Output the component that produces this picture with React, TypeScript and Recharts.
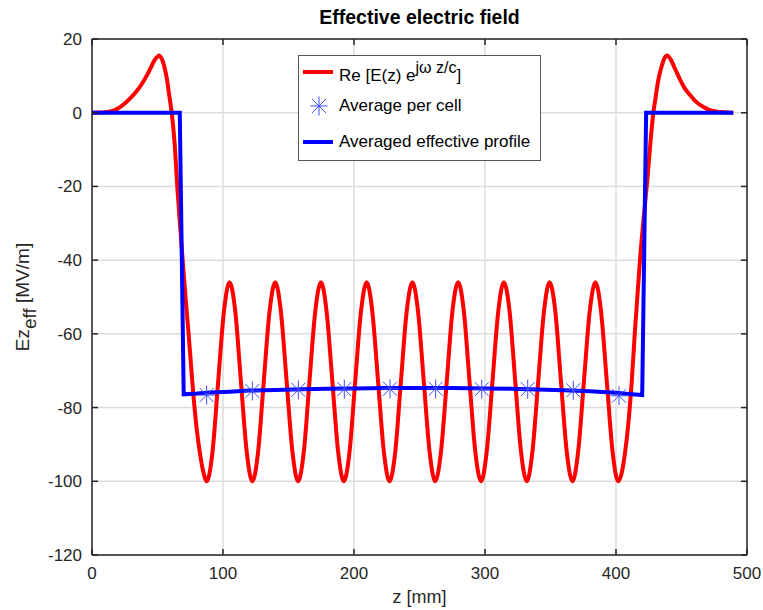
import React from "react";
import {
  ComposedChart,
  Line,
  Scatter,
  XAxis,
  YAxis,
  CartesianGrid,
} from "recharts";

// z positions [mm] and Re[E(z) e^{jwz/c}] [MV/m]
const fieldZ = [
  0, 8, 15, 20, 25, 30, 34, 38, 42, 45, 48, 50, 51.4, 53, 55, 57, 59, 61, 63, 65,
  67, 69.2, 71.5, 73.5, 75.5, 77.5, 80, 82.4, 85, 87.6,
  92.0, 96.3, 100.7, 105.0, 109.4, 113.7, 118.1, 122.4,
  126.8, 131.1, 135.5, 139.9, 144.2, 148.6, 153.0, 157.3,
  161.7, 166.0, 170.4, 174.8, 179.1, 183.5, 187.9, 192.2,
  196.6, 200.9, 205.3, 209.7, 214.0, 218.4, 222.8, 227.1,
  231.5, 235.8, 240.2, 244.6, 248.9, 253.3, 257.7, 262.0,
  266.4, 270.8, 275.1, 279.5, 283.9, 288.2, 292.6, 297.0,
  301.3, 305.7, 310.1, 314.4, 318.8, 323.1, 327.5, 331.9,
  336.2, 340.6, 345.0, 349.3, 353.7, 358.0, 362.4, 366.8,
  371.1, 375.5, 379.9, 384.3, 388.6, 393.0, 397.4, 401.7,
  404.5, 407, 409.5, 412, 414.5, 416.5, 418.3, 421, 423.9, 426.3, 428.5, 430, 432.3,
  435, 437, 439.2, 441.5, 445, 449, 452.5, 456.5, 461, 466.5, 471, 477, 483, 489.5,
];
const fieldE = [
  0, 0.05, 0.4, 1.2, 2.5, 4.2, 5.8, 7.8, 10.2, 12.3, 14.4, 15.2, 15.5, 14.8, 12.8, 9.5, 4.6, -0.5, -8, -19.5,
  -29.5, -40, -50.5, -59, -68, -77, -86, -92.4, -97.5, -100,
  -92, -73, -54, -46, -54, -73, -92, -100,
  -92, -73, -54, -46, -54, -73, -92, -100,
  -92, -73, -54, -46, -54, -73, -92, -100,
  -92, -73, -54, -46, -54, -73, -92, -100,
  -92, -73, -54, -46, -54, -73, -92, -100,
  -92, -73, -54, -46, -54, -73, -92, -100,
  -92, -73, -54, -46, -54, -73, -92, -100,
  -92, -73, -54, -46, -54, -73, -92, -100,
  -92, -73, -54, -46, -54, -73, -92, -100,
  -97.5, -92, -84, -73, -59, -49, -40, -29, -18.3, -8, 0, 3.6, 8.9,
  12.8, 14.8, 15.5, 14.6, 12, 8.9, 6.6, 4.8, 3, 1.6, 0.8, 0.3, 0.1, 0,
];

// averaged effective profile
const profileZ = [0, 67, 70, 80, 90, 105, 120, 140, 160, 180, 200, 225, 250, 275, 300, 320, 340, 360, 380, 400, 410, 420, 423, 489.5];
const profileE = [0, 0, -76.4, -76.2, -75.9, -75.7, -75.4, -75.2, -75.0, -74.9, -74.8, -74.7, -74.7, -74.7, -74.8, -74.9, -75.1, -75.3, -75.6, -76.0, -76.3, -76.6, 0, 0];

// average per cell
const cellZ = [87.5, 122.4, 157.5, 192.6, 227.5, 262.3, 297.5, 332.6, 367.4, 402.3];
const cellE = [-76.6, -75.5, -75.2, -75.0, -74.9, -74.9, -75.0, -75.0, -75.3, -76.8];

const xTicks = [0, 100, 200, 300, 400, 500];
const yTicks = [-120, -100, -80, -60, -40, -20, 0, 20];

const fieldData = fieldZ.map((z, i) => ({ z, e: fieldE[i] }));
const profileData = profileZ.map((z, i) => ({ z, e: profileE[i] }));
const cellData = cellZ.map((z, i) => ({ z, e: cellE[i] }));

const FONT = "'Liberation Sans', Arial, Helvetica, sans-serif";
const AXIS = "#262626";
const STAR = "#3f4dff";

function Asterisk(props: any) {
  const { cx, cy } = props;
  if (cx == null || cy == null) return null;
  return (
    <g stroke={STAR} strokeWidth={1}>
      <line x1={cx} y1={cy - 9.5} x2={cx} y2={cy + 9.5} />
      <line x1={cx - 8.5} y1={cy} x2={cx + 8.5} y2={cy} />
      <line x1={cx - 7} y1={cy - 7} x2={cx + 7} y2={cy + 7} />
      <line x1={cx - 7} y1={cy + 7} x2={cx + 7} y2={cy - 7} />
    </g>
  );
}

const tickStyle = { fontSize: 17, fill: AXIS, fontFamily: FONT };
const axisLine = { stroke: AXIS, strokeWidth: 1.5 };

export default function App() {
  return (
    <div style={{ position: "absolute", left: 0, top: 0, width: 763, height: 610, background: "#fff" }}>
      <ComposedChart
        width={763}
        height={610}
        margin={{ top: 38, right: 15, bottom: 0, left: 0 }}
        style={{ position: "absolute", left: 0, top: 0 }}
      >
        <CartesianGrid stroke="#dcdcdc" strokeWidth={1.5} />
        <XAxis
          dataKey="z"
          type="number"
          domain={[0, 500]}
          ticks={xTicks}
          allowDataOverflow
          height={55}
          tickSize={-6}
          tickMargin={18}
          tick={tickStyle}
          axisLine={axisLine}
          tickLine={axisLine}
        />
        <XAxis
          xAxisId="top"
          dataKey="z"
          type="number"
          orientation="top"
          domain={[0, 500]}
          ticks={xTicks}
          allowDataOverflow
          height={1}
          tickSize={-6}
          tickFormatter={() => ""}
          axisLine={axisLine}
          tickLine={axisLine}
        />
        <YAxis
          dataKey="e"
          type="number"
          domain={[-120, 20]}
          ticks={yTicks}
          allowDataOverflow
          width={92}
          tickSize={-6}
          tickMargin={16}
          tick={tickStyle}
          axisLine={axisLine}
          tickLine={axisLine}
        />
        <YAxis
          yAxisId="right"
          dataKey="e"
          type="number"
          orientation="right"
          domain={[-120, 20]}
          ticks={yTicks}
          allowDataOverflow
          width={1}
          tickSize={-6}
          tickFormatter={() => ""}
          axisLine={axisLine}
          tickLine={axisLine}
        />
        <Line
          data={fieldData}
          dataKey="e"
          type="monotone"
          stroke="#ff0000"
          strokeWidth={4}
          dot={false}
          activeDot={false}
          isAnimationActive={false}
        />
        <Line
          data={profileData}
          dataKey="e"
          type="linear"
          stroke="#0000ff"
          strokeWidth={4}
          dot={false}
          activeDot={false}
          isAnimationActive={false}
        />
        <Scatter data={cellData} dataKey="e" shape={<Asterisk />} isAnimationActive={false} />
      </ComposedChart>

      <svg
        width={763}
        height={610}
        style={{ position: "absolute", left: 0, top: 0, pointerEvents: "none" }}
        fontFamily={FONT}
      >
        <text x={419.5} y={24} textAnchor="middle" fontSize={19.5} fontWeight="bold" fill="#000">
          Effective electric field
        </text>
        <text x={419.5} y={603} textAnchor="middle" fontSize={18} fill={AXIS}>
          z [mm]
        </text>
        <text transform="translate(29 297) rotate(-90)" textAnchor="middle" fontSize={19} fill={AXIS}>
          Ez<tspan dy={7}>eff</tspan>
          <tspan dy={-7}> [MV/m]</tspan>
        </text>

        <rect x={298.5} y={55.5} width={242} height={105} fill="#fff" stroke="#555" strokeWidth={1} />
        <line x1={303} y1={72} x2={333} y2={72} stroke="#ff0000" strokeWidth={4} />
        <text x={339} y={81} fontSize={17} fill="#000">
          Re [E(z) e<tspan dy={-8} fontSize={16}>jω z/c</tspan>
          <tspan dy={8}>]</tspan>
        </text>
        <Asterisk cx={319} cy={106} />
        <text x={339} y={111} fontSize={17} fill="#000">
          Average per cell
        </text>
        <line x1={303} y1={142} x2={333} y2={142} stroke="#0000ff" strokeWidth={4} />
        <text x={339} y={146.5} fontSize={17} fill="#000">
          Averaged effective profile
        </text>
      </svg>
    </div>
  );
}
